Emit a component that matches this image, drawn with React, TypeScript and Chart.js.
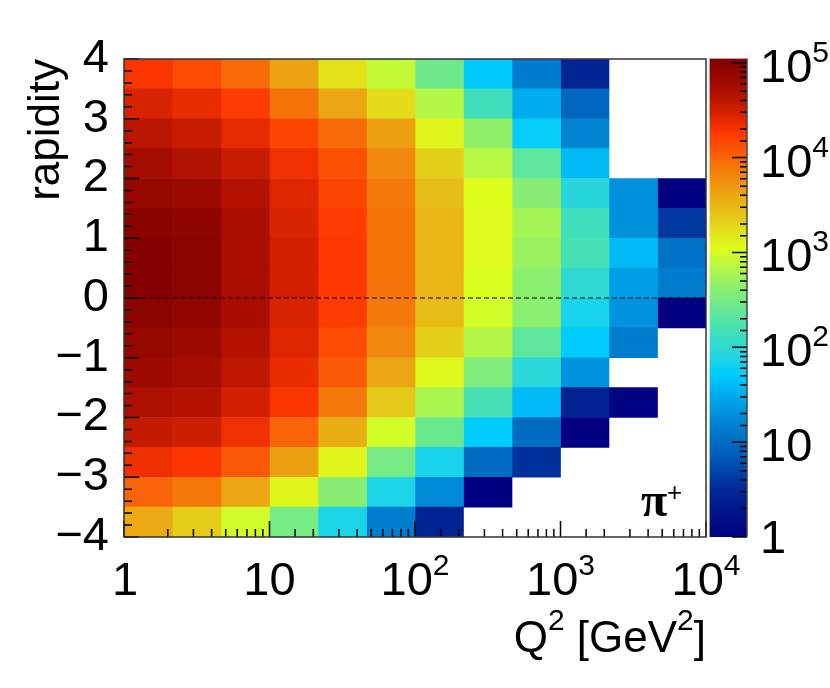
import React, { useEffect, useRef } from 'react';
import Chart from 'chart.js/auto';

// Q^2 bin edges [GeV^2], three bins per decade
const q2Edges = [1, 2.154, 4.642, 10, 21.54, 46.42, 100, 215.4, 464.2, 1000, 2154, 4642, 10000];
const rapidityBins = ['3.5', '3', '2.5', '2', '1.5', '1', '0.5', '0', '-0.5', '-1', '-1.5', '-2', '-2.5', '-3', '-3.5', '-4'];

const row3p5 = [4.28, 4.15, 3.98, 3.63, 3.22, 2.9, 2.45, 1.69, 1.15, 0.45, null, null];
const row3p0 = [4.45, 4.36, 4.23, 3.93, 3.61, 3.25, 2.83, 2.15, 1.5, 0.95, null, null];
const row2p5 = [4.62, 4.53, 4.38, 4.18, 3.98, 3.64, 3.1, 2.65, 1.75, 1.2, null, null];
const row2p0 = [4.75, 4.68, 4.53, 4.33, 4.12, 3.8, 3.32, 2.85, 2.35, 1.6, null, null];
const row1p5 = [4.87, 4.81, 4.66, 4.42, 4.18, 3.9, 3.44, 3.04, 2.6, 1.95, 1.3, 0];
const row1p0 = [4.97, 4.92, 4.72, 4.44, 4.23, 3.93, 3.5, 3.07, 2.75, 2.15, 1.3, 0.6];
const row0p5 = [5.0, 4.95, 4.72, 4.48, 4.26, 3.93, 3.5, 3.07, 2.7, 2.2, 1.6, 1.05];
const row0p0 = [5.0, 4.95, 4.72, 4.48, 4.26, 3.93, 3.5, 3.02, 2.62, 2.0, 1.4, 1.15];
const rowM0p5 = [4.95, 4.9, 4.73, 4.45, 4.23, 3.9, 3.46, 2.98, 2.62, 1.85, 1.32, 0];
const rowM1p0 = [4.87, 4.81, 4.66, 4.42, 4.15, 3.8, 3.32, 2.83, 2.35, 1.72, 1.15, null];
const rowM1p5 = [4.81, 4.75, 4.6, 4.36, 4.07, 3.61, 3.08, 2.55, 1.97, 1.32, null, null];
const rowM2p0 = [4.7, 4.66, 4.48, 4.28, 3.9, 3.37, 2.78, 2.2, 1.6, 0.42, 0.05, null];
const rowM2p5 = [4.56, 4.5, 4.33, 4.01, 3.55, 2.98, 2.42, 1.72, 1.0, 0, null, null];
const rowM3p0 = [4.34, 4.28, 4.07, 3.64, 3.1, 2.5, 1.85, 1.0, 0.55, null, null, null];
const rowM3p5 = [4.01, 3.9, 3.61, 3.1, 2.6, 1.88, 1.25, 0, null, null, null, null];
const rowM4p0 = [3.58, 3.34, 2.97, 2.5, 1.87, 1.15, 0.45, null, null, null, null, null];
const rows = [row3p5, row3p0, row2p5, row2p0, row1p5, row1p0, row0p5, row0p0, rowM0p5, rowM1p0, rowM1p5, rowM2p0, rowM2p5, rowM3p0, rowM3p5, rowM4p0];

const zMax = 5.045;
const paletteZ = [0, 0.5, 0.8, 1.15, 1.45, 1.72, 1.95, 2.2, 2.6, 3.04, 3.34, 3.58, 3.9, 4.26, 4.5, 4.75, 5.045];
const paletteRGB = [
  [0, 0, 128], [0, 40, 150], [0, 85, 180], [0, 125, 205], [0, 165, 235], [0, 205, 255],
  [40, 215, 220], [70, 225, 180], [135, 238, 115], [222, 255, 28], [228, 205, 25],
  [235, 170, 20], [245, 120, 10], [255, 55, 0], [205, 30, 0], [165, 12, 0], [128, 0, 0],
];

const zColor = (z: number) => {
  let i = 0;
  while (i < paletteZ.length - 2 && z > paletteZ[i + 1]) i++;
  const f = (z - paletteZ[i]) / (paletteZ[i + 1] - paletteZ[i]);
  const c = paletteRGB[i].map((v, k) => Math.round(v + (paletteRGB[i + 1][k] - v) * f));
  return `rgb(${c[0]}, ${c[1]}, ${c[2]})`;
};

const FONT = '"Liberation Sans", Arial, sans-serif';
const LABEL_SIZE = 47;
const TITLE_SIZE = 44;
const SUP_SIZE = 30;

// "10" with a raised exponent, the way ROOT prints it
const drawPower = (ctx: CanvasRenderingContext2D, x: number, y: number, exp: string, align: 'center' | 'left') => {
  ctx.font = `${LABEL_SIZE}px ${FONT}`;
  const w = ctx.measureText('10').width;
  ctx.font = `${SUP_SIZE}px ${FONT}`;
  const s = ctx.measureText(exp).width;
  const left = align === 'center' ? x - (w + s) / 2 : x;
  ctx.textAlign = 'left';
  ctx.textBaseline = 'alphabetic';
  ctx.fillStyle = '#000';
  ctx.font = `${LABEL_SIZE}px ${FONT}`;
  ctx.fillText('10', left, y);
  ctx.font = `${SUP_SIZE}px ${FONT}`;
  ctx.fillText(exp, left + w, y - 20);
};

const histDecor = {
  id: 'histDecor',
  afterDatasetsDraw(chart: any) {
    const { ctx, chartArea: a, scales } = chart;
    ctx.save();
    ctx.strokeStyle = '#000';
    ctx.lineWidth = 1.5;

    // ticks point inwards
    ctx.beginPath();
    scales.y.ticks.forEach((t: any) => {
      const py = scales.y.getPixelForValue(t.value);
      const major = Math.abs(t.value - Math.round(t.value)) < 1e-6;
      ctx.moveTo(a.left, py);
      ctx.lineTo(a.left + (major ? 15 : 8), py);
    });
    scales.x.ticks.forEach((t: any) => {
      const px = scales.x.getPixelForValue(t.value);
      const major = Math.abs(Math.log10(t.value) % 1) < 1e-6;
      ctx.moveTo(px, a.bottom);
      ctx.lineTo(px, a.bottom - (major ? 16 : 8));
    });
    ctx.stroke();

    ctx.strokeStyle = '#333';
    ctx.strokeRect(a.left, a.top, a.right - a.left, a.bottom - a.top);

    // x tick labels
    ctx.fillStyle = '#000';
    ctx.textBaseline = 'alphabetic';
    ctx.textAlign = 'center';
    ctx.font = `${LABEL_SIZE}px ${FONT}`;
    ctx.fillText('1', scales.x.getPixelForValue(1) + 1, 595);
    ctx.fillText('10', scales.x.getPixelForValue(10), 595);
    drawPower(ctx, scales.x.getPixelForValue(100), 595, '2', 'center');
    drawPower(ctx, scales.x.getPixelForValue(1000), 595, '3', 'center');
    drawPower(ctx, scales.x.getPixelForValue(10000), 595, '4', 'center');

    // x title, right aligned with the frame
    const parts = [
      { t: 'Q', sup: false }, { t: '2', sup: true }, { t: ' [GeV', sup: false }, { t: '2', sup: true }, { t: ']', sup: false },
    ];
    const fontOf = (sup: boolean) => `${sup ? SUP_SIZE : TITLE_SIZE}px ${FONT}`;
    let total = 0;
    parts.forEach(p => { ctx.font = fontOf(p.sup); total += ctx.measureText(p.t).width; });
    let cx = a.right - total;
    ctx.textAlign = 'left';
    parts.forEach(p => {
      ctx.font = fontOf(p.sup);
      ctx.fillText(p.t, cx, p.sup ? 630 : 652);
      cx += ctx.measureText(p.t).width;
    });

    // particle label
    ctx.font = `bold 48px "Liberation Serif", serif`;
    ctx.fillText('\u03c0', 641, 516);
    ctx.font = `26px ${FONT}`;
    ctx.fillText('+', 667, 501);
    ctx.restore();
  },
};

const barDecor = {
  id: 'barDecor',
  afterDatasetsDraw(chart: any) {
    const { ctx, chartArea: a, scales } = chart;
    ctx.save();
    ctx.strokeStyle = '#000';
    ctx.lineWidth = 1.5;
    ctx.beginPath();
    scales.y.ticks.forEach((t: any) => {
      if (t.value > 100000) return;
      const py = scales.y.getPixelForValue(t.value);
      const major = Math.abs(Math.log10(t.value) % 1) < 1e-6;
      ctx.moveTo(a.right, py);
      ctx.lineTo(a.right - (major ? 15 : 7), py);
    });
    ctx.stroke();
    ctx.strokeStyle = '#444';
    ctx.beginPath();
    ctx.moveTo(a.right, a.top);
    ctx.lineTo(a.right, a.bottom);
    ctx.stroke();

    const lx = 60;
    ctx.fillStyle = '#000';
    ctx.textAlign = 'left';
    ctx.textBaseline = 'alphabetic';
    ctx.font = `${LABEL_SIZE}px ${FONT}`;
    ctx.fillText('1', lx, scales.y.getPixelForValue(1) + 16);
    ctx.fillText('10', lx, scales.y.getPixelForValue(10) + 19);
    drawPower(ctx, lx, scales.y.getPixelForValue(100) + 19, '2', 'left');
    drawPower(ctx, lx, scales.y.getPixelForValue(1000) + 19, '3', 'left');
    drawPower(ctx, lx, scales.y.getPixelForValue(10000) + 19, '4', 'left');
    drawPower(ctx, lx, scales.y.getPixelForValue(100000) + 19, '5', 'left');
    ctx.restore();
  },
};

const App: React.FC = () => {
  const mainRef = useRef<HTMLCanvasElement>(null);
  const barRef = useRef<HTMLCanvasElement>(null);

  useEffect(() => {
    if (!mainRef.current || !barRef.current) return;

    // one floating-bar dataset per Q^2 column
    const datasets: any[] = q2Edges.slice(0, -1).map((lo, col) => ({
      type: 'bar',
      label: `Q2 bin ${col + 1}`,
      indexAxis: 'y',
      xAxisID: 'x',
      yAxisID: 'yCat',
      order: 2,
      grouped: false,
      barPercentage: 1,
      categoryPercentage: 1,
      data: rows.map(r => (r[col] === null ? null : [lo, q2Edges[col + 1]])),
      backgroundColor: rows.map(r => (r[col] === null ? 'transparent' : zColor(r[col] as number))),
      borderWidth: 0,
    }));

    // dashed line at zero rapidity
    datasets.push({
      type: 'line',
      label: 'y = 0',
      xAxisID: 'x',
      yAxisID: 'y',
      order: 1,
      data: [{ x: 1, y: 0 }, { x: 10000, y: 0 }],
      borderColor: '#000',
      borderWidth: 1,
      borderDash: [5, 3],
      pointRadius: 0,
    });

    const main = new Chart(mainRef.current, {
      type: 'bar',
      data: { labels: rapidityBins, datasets },
      plugins: [histDecor],
      options: {
        responsive: false,
        animation: false,
        layout: { padding: { top: 59, right: 124, left: 0, bottom: 0 } },
        plugins: { legend: { display: false }, tooltip: { enabled: false } },
        scales: {
          x: {
            type: 'logarithmic',
            position: 'bottom',
            min: 1,
            max: 10000,
            grid: { display: false },
            border: { display: false },
            ticks: { display: false },
            afterFit: (s: any) => { s.height = 151; },
          },
          yCat: {
            type: 'category',
            labels: rapidityBins,
            display: false,
            grid: { display: false },
          },
          y: {
            type: 'linear',
            position: 'left',
            min: -4,
            max: 4,
            grid: { display: false },
            border: { display: false },
            title: {
              display: true,
              text: 'rapidity',
              align: 'end',
              color: '#000',
              font: { family: FONT, size: TITLE_SIZE },
              padding: { top: 20, bottom: 0 },
            },
            ticks: {
              stepSize: 0.2,
              autoSkip: false,
              padding: 7,
              color: '#000',
              font: { family: FONT, size: LABEL_SIZE },
              callback: (v: any) => {
                const n = Number(v);
                if (Math.abs(n - Math.round(n)) > 1e-6) return '';
                const r = Math.round(n);
                return r < 0 ? `\u2212${-r}` : `${r}`;
              },
            },
            afterFit: (s: any) => { s.width = 124; },
          },
        } as any,
      },
    });

    const colorBar = new Chart(barRef.current, {
      type: 'bar',
      data: {
        labels: ['z'],
        datasets: [{
          data: [[1, 10 ** zMax]] as any,
          barPercentage: 1,
          categoryPercentage: 1,
          borderWidth: 0,
          backgroundColor: (c: any) => {
            const a = c.chart.chartArea;
            if (!a) return '#000080';
            const g = c.chart.ctx.createLinearGradient(0, a.bottom, 0, a.top);
            paletteZ.forEach((z) => g.addColorStop(z / zMax, zColor(z)));
            return g;
          },
        }],
      },
      plugins: [barDecor],
      options: {
        responsive: false,
        animation: false,
        layout: { padding: { top: 58.5, right: 83, left: 9.5, bottom: 151 } },
        plugins: { legend: { display: false }, tooltip: { enabled: false } },
        scales: {
          x: { display: false, grid: { display: false } },
          y: {
            type: 'logarithmic',
            position: 'right',
            min: 1,
            max: 10 ** zMax,
            grid: { display: false },
            border: { display: false },
            ticks: { display: false },
            afterFit: (s: any) => { s.width = 0; },
          },
        } as any,
      },
    });

    return () => {
      main.destroy();
      colorBar.destroy();
    };
  }, []);

  return (
    <div style={{ position: 'absolute', left: 0, top: 0, width: 830, height: 688 }}>
      <canvas ref={mainRef} width={830} height={688} style={{ position: 'absolute', left: 0, top: 0 }}></canvas>
      <canvas ref={barRef} width={130} height={688} style={{ position: 'absolute', left: 700, top: 0 }}></canvas>
    </div>
  );
};

export default App;
